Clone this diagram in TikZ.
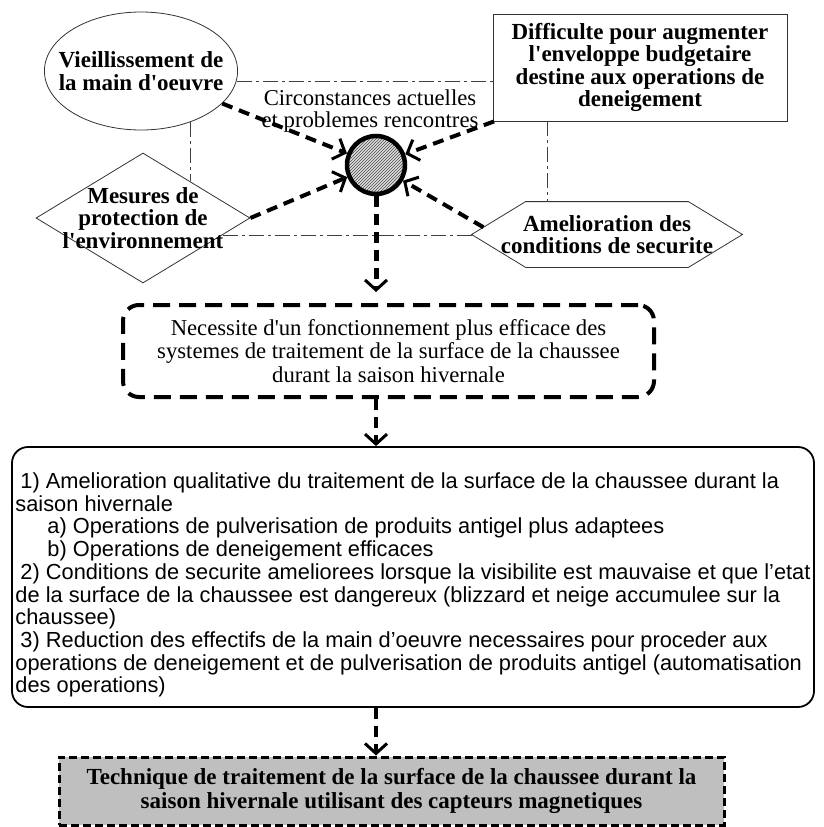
\documentclass[tikz,border=0pt]{standalone}
\usepackage{fontspec}
\setmainfont{Liberation Serif}
\setsansfont{Liberation Sans}
\usetikzlibrary{positioning,calc,arrows.meta,patterns,shapes.geometric}

\tikzset{
  cause/.style={draw=black!80, line width=0.8pt, fill=white, align=center,
    font=\fontsize{23}{22.5}\selectfont\bfseries},
  link/.style={draw=black!75, line width=0.8pt, dash pattern=on 15pt off 4pt on 3pt off 4pt},
  push/.style={line width=4pt, dash pattern=on 11pt off 7pt,
    -{Straight Barb[length=10pt,width=22pt,line width=3pt]}},
  hub/.style={circle, draw, line width=4.5pt, minimum size=58pt, inner sep=0pt,
    preaction={fill=gray!25}, pattern=north east lines, pattern color=black!70},
}

\begin{document}
\begin{tikzpicture}[x=1pt,y=-1pt,on grid]
  \useasboundingbox (0,0) rectangle (823,827);
  \node[hub] (c) at (376,165) {};
  \node[cause, ellipse, minimum width=190pt, minimum height=118pt, inner sep=-14pt] (ev)
    [above left=94pt and 235pt of c] {Vieillissement de\\la main d\textquotesingle oeuvre};
  \node[cause, rectangle, minimum width=294pt, minimum height=107pt] (db)
    [above right=97.5pt and 264pt of c] {Difficulte pour augmenter\\l\textquotesingle enveloppe budgetaire\\destine aux operations de\\deneigement};
  \node[cause, diamond, aspect=1.65, minimum width=214pt, minimum height=130pt, inner sep=-25pt] (env)
    [below left=53pt and 233pt of c] {Mesures de\\protection de\\l\textquotesingle environnement};
  \node[cause, draw=none, fill=none, minimum width=270pt, minimum height=65pt, inner sep=0pt] (sec)
    [below right=69.5pt and 231pt of c] {Amelioration des\\conditions de securite};
  \draw[draw=black!80, line width=0.8pt] (sec.west) -- ([xshift=54pt]sec.north west)
    -- ([xshift=-54pt]sec.north east) -- (sec.east) -- ([xshift=-54pt]sec.south east)
    -- ([xshift=54pt]sec.south west) -- cycle;
  \coordinate (sec-a) at ($(sec.west)!.22!([xshift=54pt]sec.north west)$);
  \node[font=\fontsize{22.7}{22}\selectfont, align=center, inner sep=0pt] (lbl)
    [above left=54pt and 6pt of c] {Circonstances actuelles\\et problemes rencontres};

  \node[draw, line width=4pt, dash pattern=on 17pt off 9pt, rounded corners=16pt,
    minimum width=531pt, minimum height=92pt, align=center, font=\fontsize{22.7}{23.5}\selectfont] (nec)
    [below right=186pt and 12.5pt of c] {Necessite d\textquotesingle un fonctionnement plus efficace des\\systemes de traitement de la surface de la chaussee\\durant la saison hivernale};
  \node[draw, line width=1.8pt, rounded corners=16pt, minimum width=802pt, minimum height=260pt,
    align=left, inner sep=2pt, font=\sffamily\fontsize{21.8}{22.7}\selectfont] (plan)
    [below right=226pt and 24.5pt of nec] {\rule{0pt}{32pt}\hspace{5pt}1) Amelioration qualitative du traitement de la surface de la chaussee durant la\\
    saison hivernale\\
    \hspace{32pt}a) Operations de pulverisation de produits antigel plus adaptees\\
    \hspace{32pt}b) Operations de deneigement efficaces\\
    \hspace{5pt}2) Conditions de securite ameliorees lorsque la visibilite est mauvaise et que l'etat\\
    de la surface de la chaussee est dangereux (blizzard et neige accumulee sur la\\
    chaussee)\\
    \hspace{5pt}3) Reduction des effectifs de la main d'oeuvre necessaires pour proceder aux\\
    operations de deneigement et de pulverisation de produits antigel (automatisation\\
    des operations)};
  \node[draw, fill=black!25, line width=3pt, dash pattern=on 8pt off 4pt, minimum width=665pt,
    minimum height=68pt, align=center, font=\fontsize{23}{24}\selectfont\bfseries] (tech)
    [below left=214pt and 21.5pt of plan] {Technique de traitement de la surface de la chaussee durant la\\saison hivernale utilisant des capteurs magnetiques};

  % dash-dot frame between the four causes
  \draw[link] (ev.-6) -- (ev.-6 -| db.west);
  \draw[link] (ev.-46) -- (ev.-46 |- env.38);
  \draw[link] (env.-12) -- (env.-12 -| sec.west);
  \draw[link] ([xshift=55pt]db.south west) -- ([xshift=55pt]db.south west |- sec.north);

  \path[push]
    (ev) edge (c)
    (db) edge (c)
    (env.east) edge (c)
    (sec-a) edge (c);
  \draw[push, line width=5pt, shorten >=11pt] (c) -- (c |- nec.north);
  \draw[push] (c |- nec.south) -- (c |- plan.north);
  \draw[push] (c |- plan.south) -- (c |- tech.north);
\end{tikzpicture}
\end{document}
